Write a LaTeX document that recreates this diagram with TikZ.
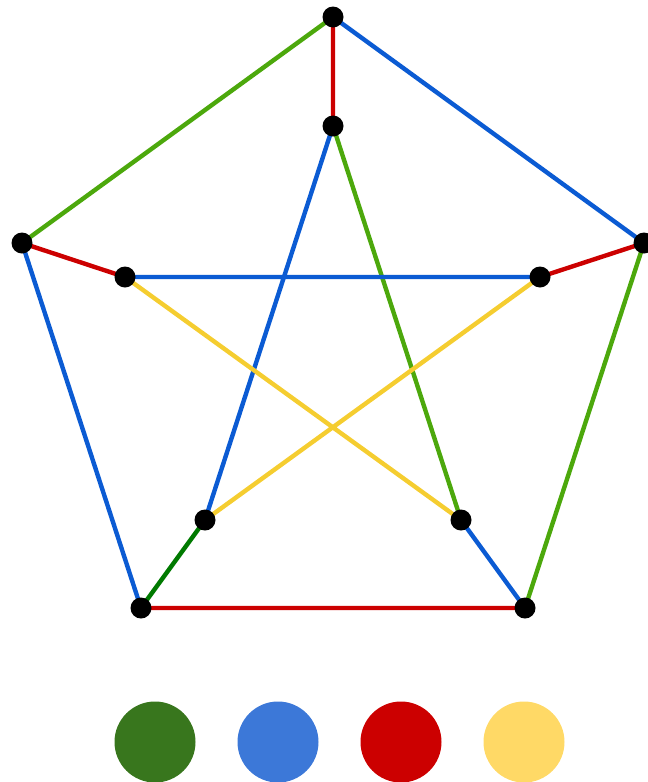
\documentclass[tikz,border=0pt]{standalone}
\definecolor{eblue}{HTML}{0B5BD3}
\definecolor{ered}{HTML}{CC0000}
\definecolor{egreen}{HTML}{4CA80C}
\definecolor{edkgreen}{HTML}{007A00}
\definecolor{eyellow}{HTML}{F5CD30}
\definecolor{kdkgreen}{HTML}{38761D}
\definecolor{kblue}{HTML}{3C78D8}
\definecolor{kred}{HTML}{CC0000}
\definecolor{kyellow}{HTML}{FFD966}
\begin{document}
\begin{tikzpicture}[x=1pt, y=-1pt, line width=4.4pt]
					\useasboundingbox (0,0) rectangle (648,782);
					\coordinate (O1) at (333,17); \coordinate (O2) at (22,243);
					\coordinate (O3) at (644,243); \coordinate (O4) at (141,608);
					\coordinate (O5) at (525,608);
					\coordinate (I1) at (333,126); \coordinate (I2) at (125,277);
					\coordinate (I3) at (540,277); \coordinate (I4) at (205,520);
					\coordinate (I5) at (461,520);
					\draw[egreen] (O1)--(O2) (O3)--(O5) (I1)--(I5);
					\draw[eblue] (O1)--(O3) (O2)--(O4) (O5)--(I5) (I1)--(I4) (I2)--(I3);
					\draw[ered] (O1)--(I1) (O2)--(I2) (O3)--(I3) (O4)--(O5);
					\draw[edkgreen] (O4)--(I4);
					\draw[eyellow] (I2)--(I5) (I3)--(I4);
					\foreach \p in {O1,O2,O3,O4,O5,I1,I2,I3,I4,I5} \fill[black] (\p) circle (10.5);
					\foreach \c/\x in {kdkgreen/155, kblue/278, kred/401, kyellow/524} \fill[\c] (\x,742) circle (40.5);
			\end{tikzpicture}
\end{document}
